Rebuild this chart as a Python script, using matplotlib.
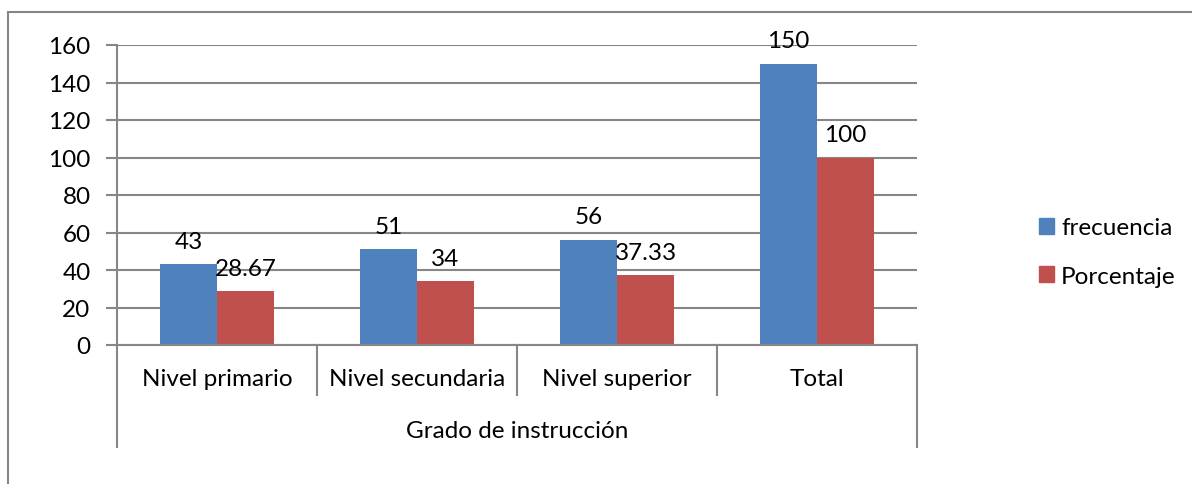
import matplotlib
matplotlib.use("Agg")
import matplotlib.pyplot as plt
from matplotlib.patches import Rectangle, Patch
import numpy as np

categories = ["Nivel primario", "Nivel secundaria", "Nivel superior", "Total"]
frecuencia = [43, 51, 56, 150]
porcentaje = [28.67, 34, 37.33, 100]
label_frec = ["43", "51", "56", "150"]
label_porc = ["28.67", "34", "37.33", "100"]
yticks = [0, 20, 40, 60, 80, 100, 120, 140, 160]
series_names = ["frecuencia", "Porcentaje"]
axis_title = "Grado de instrucción"

BLUE = "#4F81BD"
RED = "#C0504D"
GRID = "#868686"
FONT = "Lato"
FS = 17.5

W, H = 1192, 485
fig = plt.figure(figsize=(W / 100, H / 100), dpi=100)
plt.rcParams['font.family'] = [FONT, 'DejaVu Sans']

# outer chart border (extends past right/bottom edge)
fig.patches.append(Rectangle((8 / W, -0.1), 1.2, (H - 13) / H + 0.1,
                             transform=fig.transFigure, fill=False,
                             edgecolor=GRID, linewidth=1.5))

ax = fig.add_axes([117 / W, (H - 346) / H, 800 / W, 300 / H])
ax.set_xlim(0, 4)
ax.set_ylim(0, 160)

x = np.arange(len(categories)) + 0.5
bw = 0.285
ax.bar(x - bw / 2, frecuencia, bw, color=BLUE, label=series_names[0], zorder=3)
ax.bar(x + bw / 2, porcentaje, bw, color=RED, label=series_names[1], zorder=3)

for xi, v, t in zip(x - bw / 2, frecuencia, label_frec):
    ax.annotate(t, (xi, v), xytext=(0, 9), textcoords="offset points",
                ha="center", va="bottom", fontsize=FS, color="black")
for xi, v, t in zip(x + bw / 2, porcentaje, label_porc):
    ax.annotate(t, (xi, v), xytext=(0, 9), textcoords="offset points",
                ha="center", va="bottom", fontsize=FS, color="black")

ax.set_yticks(yticks)
ax.yaxis.grid(True, color=GRID, linewidth=1.5, zorder=0)
ax.set_axisbelow(True)
for s in ["top", "right", "bottom", "left"]:
    ax.spines[s].set_visible(False)
ax.tick_params(axis="y", length=8, width=1.5, color=GRID, labelsize=FS, pad=11)
ax.set_xticks([])

tr = ax.get_xaxis_transform()
# baseline axis
ax.plot([0, 4], [0, 0], transform=tr, color=GRID, lw=1.5, clip_on=False, zorder=4)
# vertical axis + category separators
for b in range(len(categories) + 1):
    ybot = -102 / 300 if b in (0, len(categories)) else -50 / 300
    ytop = 1.0 if b == 0 else 0.0
    ax.plot([b, b], [ybot, ytop], transform=tr, color=GRID, lw=1.5,
            clip_on=False, zorder=4)

for xi, c in zip(x, categories):
    ax.text(xi, -34 / 300, c, transform=tr, ha="center", va="center", fontsize=FS)
ax.text(2, -86 / 300, axis_title, transform=tr, ha="center", va="center", fontsize=FS)

handles = [Patch(color=BLUE), Patch(color=RED)]
fig.legend(handles, series_names, loc="center left",
           bbox_to_anchor=(1027 / W, (H - 253) / H), frameon=False,
           fontsize=FS, handlelength=0.6, handleheight=0.6,
           handletextpad=0.3, labelspacing=1.12, borderpad=0)

fig.savefig("out.png", dpi=100)
